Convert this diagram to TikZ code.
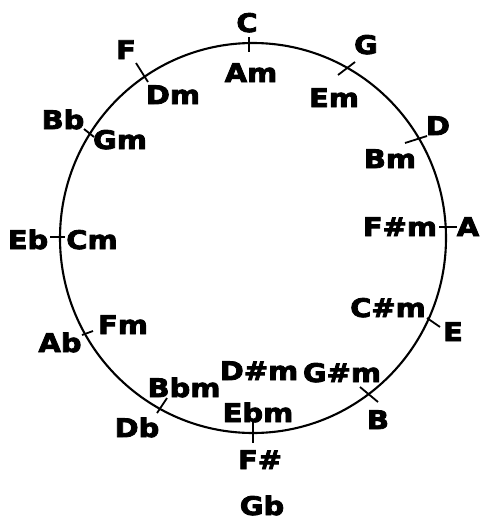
\documentclass[tikz,border=0pt]{standalone}
\usepackage{fontspec}
\newfontfamily\lab[FakeStretch=1.13,FakeBold=3.2]{DejaVu Sans}
\begin{document}
\begin{tikzpicture}[x=1pt,y=-1pt,
  lbl/.style={font=\lab\bfseries\fontsize{25.6}{25.6}\selectfont, anchor=base, inner sep=0pt, outer sep=0pt},
  ring/.style={line width=2.1pt},
  tick/.style={line width=1.8pt}]
\useasboundingbox (0,0) rectangle (480,522);
% circle
\draw[ring] (253,238) ellipse [x radius=193pt, y radius=195pt];
% ticks
\draw[tick] (249,37) -- (249,52);
\draw[tick] (338,75) -- (355,62);
\draw[tick] (405,143) -- (427,136);
\draw[tick] (439,227) -- (457,227);
\draw[tick] (427,318) -- (440,327);
\draw[tick] (360,387) -- (378,402);
\draw[tick] (253,420) -- (253,443);
\draw[tick] (157,413) -- (167,398);
\draw[tick] (82,335) -- (93,331);
\draw[tick] (50,237) -- (65,237);
\draw[tick] (84,129) -- (94,137);
\draw[tick] (136,63) -- (148,82);
% major keys
\node[lbl] (kC)  at (247,32)  {C};
\node[lbl] (kG)  at (366,54)  {G};
\node[lbl] (kD)  at (438,135) {D};
\node[lbl] (kA)  at (468,236) {A};
\node[lbl] (kE)  at (453,341) {E};
\node[lbl] (kB)  at (378,429) {B};
\node[lbl] (kFs) at (260,469) {F\#};
\node[lbl] (kGb) at (262,515) {Gb};
\node[lbl] (kDb) at (137,437) {Db};
\node[lbl] (kAb) at (60,352)  {Ab};
\node[lbl] (kEb) at (28,249)  {Eb};
\node[lbl] (kBb) at (63,129)  {Bb};
\node[lbl] (kF)  at (126,59)  {F};
% minor keys
\node[lbl] (mAm)  at (251,82)  {Am};
\node[lbl] (mEm)  at (334,107) {Em};
\node[lbl] (mBm)  at (390,168) {Bm};
\node[lbl] (mFsm) at (400,236) {F\#m};
\node[lbl] (mCsm) at (388,317) {C\#m};
\node[lbl] (mGsm) at (342,382) {G\#m};
\node[lbl] (mDsm) at (259,380) {D\#m};
\node[lbl] (mEbm) at (258,422) {Ebm};
\node[lbl] (mBbm) at (184,397) {Bbm};
\node[lbl] (mFm)  at (123,334) {Fm};
\node[lbl] (mCm)  at (92,249)  {Cm};
\node[lbl] (mGm)  at (120,149) {Gm};
\node[lbl] (mDm)  at (173,104) {Dm};
\end{tikzpicture}
\end{document}
